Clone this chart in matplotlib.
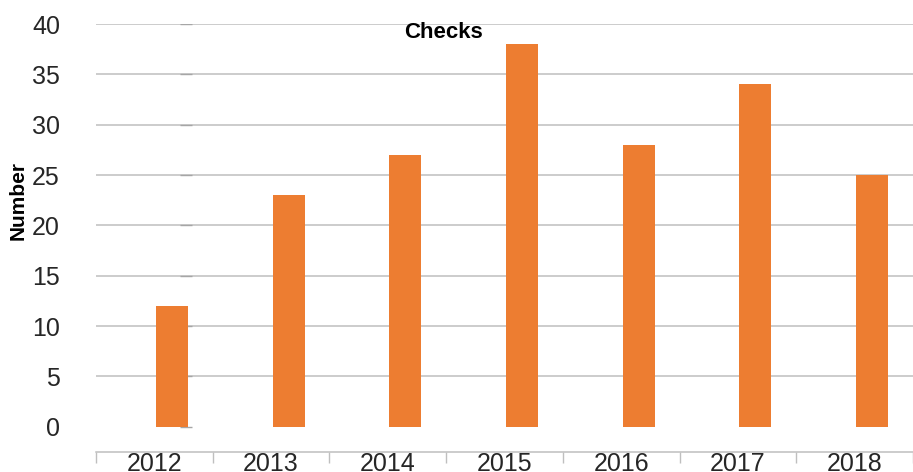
import matplotlib.pyplot as plt

plt.rcParams['font.family'] = ['Liberation Sans', 'DejaVu Sans']

years = ['2012', '2013', '2014', '2015', '2016', '2017', '2018']
checks = [12, 23, 27, 38, 28, 34, 25]

fig = plt.figure(figsize=(9.13, 4.72), dpi=100)
ax = fig.add_axes([96 / 913, 20 / 472, 1 - 96 / 913, 428 / 472])

x = list(range(len(years)))
# the bars sit right of the category centre, like a second series in a cluster
ax.bar([i + 0.15 for i in x], checks, width=0.275, color='#ED7D31', zorder=3)

# faint tick dashes of a hidden axis
ax.plot([0.267] * 9, list(range(0, 41, 5)), linestyle='none', marker='_',
        markersize=9, color='#A6A6A6', zorder=2)

ax.set_xlim(-0.5, -0.5 + 817 / 118.7)
ax.set_ylim(-2.5, 40)

ax.set_yticks(range(0, 41, 5))
ax.tick_params(axis='y', length=0, labelsize=18, pad=26, colors='#262626')
ax.yaxis.grid(True, color='#BFBFBF', linewidth=1.1, zorder=0)
ax.yaxis.get_gridlines()[0].set_visible(False)

ax.set_xticks([i - 0.5 for i in range(len(years) + 1)])
ax.set_xticklabels([])
ax.set_xticks(x, minor=True)
ax.set_xticklabels(years, minor=True)
ax.tick_params(axis='x', which='major', length=8, width=1, color='#BFBFBF')
ax.tick_params(axis='x', which='minor', length=0, labelsize=18, pad=0, labelcolor='#262626')

for side in ['top', 'right', 'left']:
    ax.spines[side].set_visible(False)
ax.spines['bottom'].set_color('#BFBFBF')
ax.spines['bottom'].set_linewidth(1.1)

fig.text(443 / 913, 1 - 33 / 472, 'Checks', ha='center', va='center',
         fontsize=16, fontweight='bold')
fig.text(18 / 913, 1 - 201 / 472, 'Number', ha='center', va='center',
         rotation=90, fontsize=15, fontweight='bold')

fig.savefig('out.png', dpi=100)
